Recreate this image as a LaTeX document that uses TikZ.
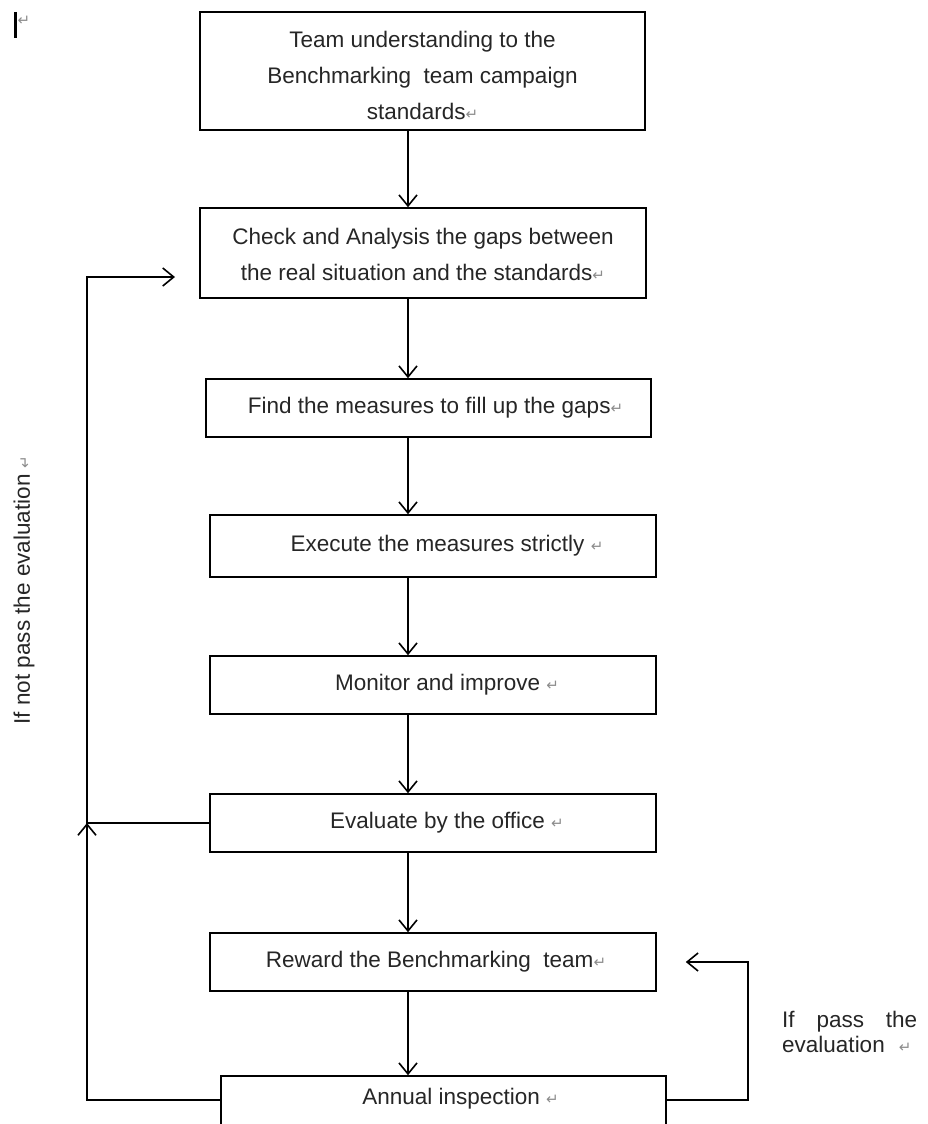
\documentclass[tikz,border=0pt]{standalone}
\usepackage{fontspec}
\setmainfont{Liberation Sans}
\newfontfamily\symfont{DejaVu Sans}
\usetikzlibrary{arrows.meta}
% grey paragraph mark shown after each text
\newcommand\retmark{{\color{black!45}\symfont\fontsize{15}{15}\selectfont ↵}}

\begin{document}
\begin{tikzpicture}[x=1pt,y=-1pt,
  every node/.style={font=\fontsize{22.5}{36}\selectfont, text=black!85},
  stepbox/.style={draw, line width=1.6pt, minimum width=446pt, inner sep=0pt},
  steptext/.style={align=center, inner sep=0pt},
  flow/.style={line width=1.6pt, -{Straight Barb[length=11pt,width=18pt,line width=1.6pt]}},
  link/.style={line width=1.6pt}]

\useasboundingbox (0,0) rectangle (928,1124);

% cursor mark in the top-left corner
\draw[line width=3pt] (15,12) -- (15,38);
\node[inner sep=0pt] (cursor) at (24,21) {\retmark};

% process steps
\node[stepbox, minimum width=445pt, minimum height=118pt,
  label={[steptext, yshift=-4pt]center:{Team understanding to the\\Benchmarking\ \ team campaign\\standards\retmark}}]
  (b1) at (422.5,71) {};
\node[stepbox, minimum height=90pt,
  label={[steptext, yshift=-1pt]center:{Check and Analysis the gaps between\\the real situation and the standards\retmark}}]
  (b2) at (423,253) {};
\node[stepbox, minimum width=445pt, minimum height=58pt,
  label={[steptext, xshift=7pt]center:{Find the measures to fill up the gaps\retmark}}]
  (b3) at (428.5,408) {};
\node[stepbox, minimum height=62pt,
  label={[steptext, xshift=14pt]center:{Execute the measures strictly \retmark}}]
  (b4) at (433,546) {};
\node[stepbox, minimum height=58pt,
  label={[steptext, xshift=14pt]center:{Monitor and improve \retmark}}]
  (b5) at (433,685) {};
\node[stepbox, minimum height=58pt,
  label={[steptext, xshift=14pt]center:{Evaluate by the office \retmark}}]
  (b6) at (433,823) {};
\node[stepbox, minimum height=58pt,
  label={[steptext, xshift=3pt]center:{Reward the Benchmarking\ \ team\retmark}}]
  (b7) at (433,962) {};
\node[stepbox, minimum width=445pt, minimum height=64pt,
  label={[steptext, xshift=17pt, yshift=9pt]center:{Annual inspection \retmark}}]
  (b8) at (443.5,1108) {};

% side notes
\node[rotate=90, inner sep=0pt] (failnote) at (24,590) {If not pass the evaluation \retmark};
\node[anchor=north west, align=left, text width=135pt, inner sep=0pt,
  font=\fontsize{22.5}{25}\selectfont] (passnote) at (782,1011)
  {If\hfill pass\hfill the\\evaluation\hspace{14pt}\retmark};

% main flow
\coordinate (ax) at (408,0);
\draw[flow] (b1.south -| ax) -- (b2.north -| ax);
\draw[flow] (b2.south -| ax) -- (b3.north -| ax);
\draw[flow] (b3.south -| ax) -- (b4.north -| ax);
\draw[flow] (b4.south -| ax) -- (b5.north -| ax);
\draw[flow] (b5.south -| ax) -- (b6.north -| ax);
\draw[flow] (b6.south -| ax) -- (b7.north -| ax);
\draw[flow] (b7.south -| ax) -- (b8.north -| ax);

% feedback loops
\coordinate (lx) at (87,0);
\coordinate (back) at (175,277);
\coordinate (low) at (0,1100);
\coordinate (rx) at (748,962);
\draw[flow] (b6.west) -| (lx |- back) -- (back);
\draw[flow] (b8.west |- low) -| (lx |- b6.west);
\draw[flow] (b8.east |- low) -| (rx) -- ([xshift=29pt]b7.east |- rx);
\end{tikzpicture}
\end{document}
